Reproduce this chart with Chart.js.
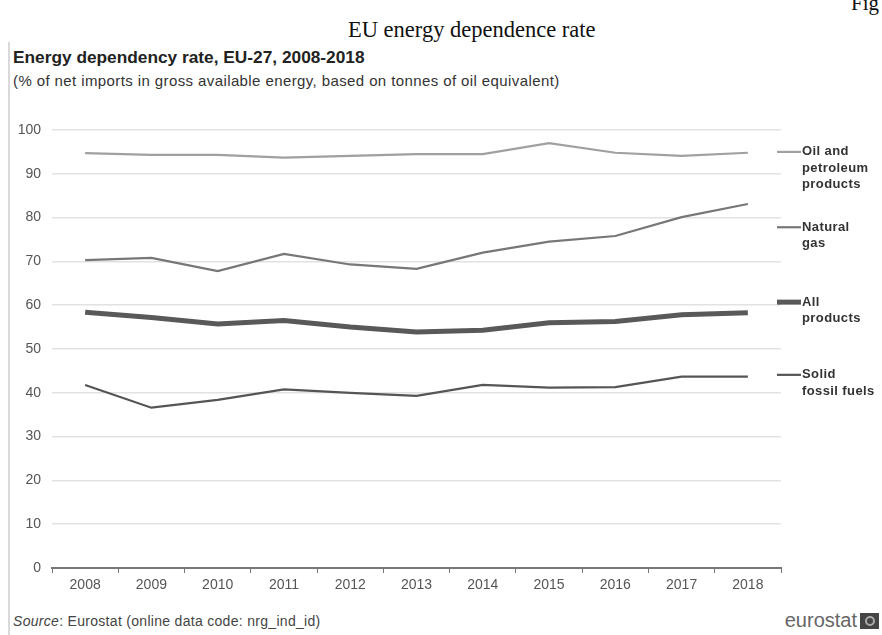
<!DOCTYPE html>
<html>
<head>
<meta charset="utf-8">
<script src="https://cdn.jsdelivr.net/npm/chart.js@4.4.1/dist/chart.umd.min.js"></script>
<style>
  body { margin: 0; background: #fff; width: 882px; height: 635px; overflow: hidden; position: relative; font-family: "Liberation Sans", Arial, sans-serif; }
  .fig { position: absolute; left: 851px; top: -9px; font-family: "Liberation Serif", serif; font-size: 21px; color: #111; }
  .pagetitle { position: absolute; left: 348px; top: 17px; font-family: "Liberation Serif", serif; font-size: 22.5px; color: #111; white-space: nowrap; }
  .panel { position: absolute; left: 8px; top: 42px; bottom: 0; border-left: 2px solid #d9d9d9; }
  .title { position: absolute; left: 13px; top: 47px; font-size: 17.3px; font-weight: bold; color: #222; white-space: nowrap; }
  .subtitle { position: absolute; left: 13px; top: 72px; font-size: 15px; letter-spacing: 0.4px; color: #333; white-space: nowrap; }
  .source { position: absolute; left: 13px; top: 613px; font-size: 14px; letter-spacing: 0.3px; color: #444; white-space: nowrap; }
  .logo { position: absolute; right: 3px; top: 609px; font-size: 20px; color: #666; display: flex; align-items: center; }
  .logo .box { width: 19px; height: 16px; background: #444; margin-left: 3px; position: relative; }
  .logo .box::after { content: ""; position: absolute; left: 5px; top: 3px; width: 6px; height: 6px; border: 2px solid #aaa; border-radius: 50%; }
  #wrap { position: absolute; left: 0; top: 110px; width: 882px; height: 490px; }
</style>
</head>
<body>
<div class="fig">Fig</div>
<div class="pagetitle">EU energy dependence rate</div>
<div class="panel"></div>
<div class="title">Energy dependency rate, EU-27, 2008-2018</div>
<div class="subtitle">(% of net imports in gross available energy, based on tonnes of oil equivalent)</div>
<div id="wrap"><canvas id="chart"></canvas></div>
<div class="source"><i>Source</i>: Eurostat (online data code: nrg_ind_id)</div>
<div class="logo">eurostat<span class="box"></span></div>

<script>
const years = ['2008', '2009', '2010', '2011', '2012', '2013', '2014', '2015', '2016', '2017', '2018'];

const oil = [94.7, 94.3, 94.3, 93.7, 94.1, 94.5, 94.5, 97.0, 94.8, 94.1, 94.8];
const naturalGas = [70.3, 70.8, 67.8, 71.7, 69.3, 68.3, 72.0, 74.5, 75.8, 80.1, 83.1];
const allProducts = [58.4, 57.2, 55.7, 56.5, 55.0, 53.9, 54.3, 56.0, 56.3, 57.8, 58.3];
const solidFuels = [41.8, 36.6, 38.4, 40.8, 40.0, 39.3, 41.8, 41.2, 41.3, 43.7, 43.7];

const yTicks = [0, 10, 20, 30, 40, 50, 60, 70, 80, 90, 100];

// series names written to the right of the plot, one line per entry
const seriesLabels = [
  ['Oil and', 'petroleum', 'products'],
  ['Natural', 'gas'],
  ['All', 'products'],
  ['Solid', 'fossil fuels']
];

const tickFont = { size: 14, family: '"Liberation Sans", Arial, sans-serif' };

// labels sit at these heights (axis units), spaced out so they don't collide
const endLabels = {
  id: 'endLabels',
  afterDatasetsDraw(chart, args, opts) {
    const { ctx, scales: { y } } = chart;
    ctx.save();
    chart.data.datasets.forEach((ds, i) => {
      const yy = y.getPixelForValue(opts.at[i]);
      ctx.strokeStyle = ds.borderColor;
      ctx.lineWidth = ds.borderWidth;
      ctx.beginPath();
      ctx.moveTo(777, yy);
      ctx.lineTo(801, yy);
      ctx.stroke();
      ctx.fillStyle = '#333';
      ctx.font = 'bold 13px "Liberation Sans", Arial, sans-serif';
      ctx.letterSpacing = '0.4px';
      ctx.textBaseline = 'middle';
      seriesLabels[i].forEach((t, k) => ctx.fillText(t, 802, yy + k * 16.5));
    });
    ctx.restore();
  }
};

new Chart(document.getElementById('chart'), {
  type: 'line',
  data: {
    labels: years,
    datasets: [
      { label: 'Oil and petroleum products', data: oil, borderColor: '#a0a0a0', borderWidth: 2.2 },
      { label: 'Natural gas', data: naturalGas, borderColor: '#777777', borderWidth: 2.2 },
      { label: 'All products', data: allProducts, borderColor: '#595959', borderWidth: 5 },
      { label: 'Solid fossil fuels', data: solidFuels, borderColor: '#555555', borderWidth: 2.2 }
    ]
  },
  options: {
    responsive: true,
    maintainAspectRatio: false,
    animation: false,
    elements: { point: { radius: 0 }, line: { tension: 0 } },
    layout: { padding: { top: 20, right: 101, left: 0, bottom: 0 } },
    plugins: {
      legend: { display: false },
      tooltip: { enabled: false },
      endLabels: { at: [95.0, 77.8, 60.7, 44.1] }
    },
    scales: {
      x: {
        offset: true,
        grid: { offset: true, drawOnChartArea: false, drawTicks: true, tickLength: 5, color: '#777' },
        border: { display: true, color: '#777', width: 2 },
        ticks: { color: '#555', font: tickFont, padding: 4, maxRotation: 0 },
        afterFit: s => { s.height = 32; }
      },
      y: {
        min: 0,
        max: 100,
        afterBuildTicks: s => { s.ticks = yTicks.map(v => ({ value: v })); },
        grid: { color: '#e2e2e2', lineWidth: 1.5, drawTicks: false },
        border: { display: false },
        ticks: { color: '#555', font: tickFont, padding: 11 },
        afterFit: s => { s.width = 52; }
      }
    }
  },
  plugins: [endLabels]
});
</script>
</body>
</html>
